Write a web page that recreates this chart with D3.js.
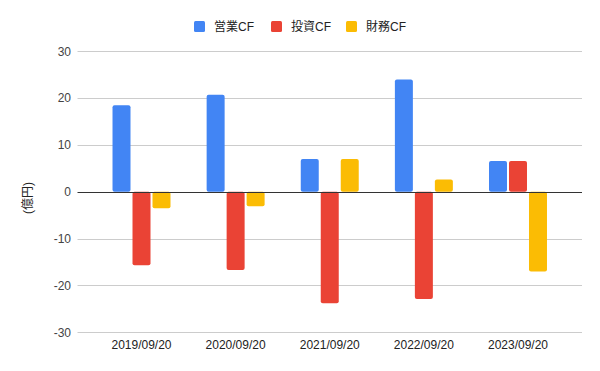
<!DOCTYPE html>
<html><head><meta charset="utf-8">
<script src="https://cdn.jsdelivr.net/npm/d3@7"></script>
<style>
html,body{margin:0;padding:0;background:#fff;}
svg{display:block;font-family:"Liberation Sans","Noto Sans CJK JP",Arial,sans-serif;}
</style></head>
<body>
<svg id="chart" width="600" height="371"></svg>
<script>
const categories = ["2019/09/20","2020/09/20","2021/09/20","2022/09/20","2023/09/20"];
const seriesNames = ["営業CF","投資CF","財務CF"];
const operatingCF = [18.5, 20.7, 7.0, 24.0, 6.6];
const investingCF = [-15.7, -16.7, -23.8, -22.9, 6.6];
const financingCF = [-3.5, -3.1, 7.0, 2.6, -17.0];
const yTicks = [-30, -20, -10, 0, 10, 20, 30];
const yTitle = "(億円)";
const colors = ["#4285F4", "#EA4335", "#FBBC04"];

const seriesValues = [operatingCF, investingCF, financingCF];
const svg = d3.select("#chart");
const plotLeft = 77.5, plotRight = 582, plotTop = 51.3, plotBottom = 332.3;

const y = d3.scaleLinear().domain([-30, 30]).range([plotBottom, plotTop]);
const x0 = d3.scaleBand().domain(categories).range([plotLeft, plotRight]).paddingInner(0.384).paddingOuter(0.372);
const x1 = d3.scaleBand().domain(seriesNames).range([0, x0.bandwidth()]).paddingInner(0.1);

// gridlines
svg.append("g").selectAll("line").data(yTicks.filter(t => t !== 0)).join("line")
  .attr("x1", plotLeft).attr("x2", plotRight)
  .attr("y1", d => Math.round(y(d)) + 0.5).attr("y2", d => Math.round(y(d)) + 0.5)
  .attr("stroke", "#cccccc").attr("stroke-width", 1);

// y labels
svg.append("g").selectAll("text").data(yTicks).join("text")
  .attr("x", 71).attr("y", d => y(d)).attr("dy", "0.35em")
  .attr("text-anchor", "end").attr("font-size", 12).attr("fill", "#444")
  .text(d => d);

// bars
const groups = svg.append("g").selectAll("g").data(categories).join("g")
  .attr("transform", d => `translate(${x0(d)},0)`);
groups.selectAll("rect").data((c, i) => seriesNames.map((s, j) => ({s, v: seriesValues[j][i], j})))
  .join("rect")
  .attr("x", d => x1(d.s))
  .attr("width", x1.bandwidth())
  .attr("y", d => Math.min(y(d.v), y(0)))
  .attr("height", d => Math.abs(y(d.v) - y(0)))
  .attr("rx", 2).attr("ry", 2)
  .attr("fill", d => colors[d.j]);

// zero line
svg.append("line").attr("x1", plotLeft).attr("x2", plotRight)
  .attr("y1", Math.round(y(0)) + 0.5).attr("y2", Math.round(y(0)) + 0.5)
  .attr("stroke", "#333333").attr("stroke-width", 1);

// x labels
svg.append("g").selectAll("text").data(categories).join("text")
  .attr("x", d => x0(d) + x0.bandwidth() / 2).attr("y", 349)
  .attr("text-anchor", "middle").attr("font-size", 12).attr("fill", "#222")
  .text(d => d);

// y title
svg.append("text")
  .attr("transform", `translate(32,198) rotate(-90)`)
  .attr("text-anchor", "middle").attr("font-size", 12).attr("fill", "#222")
  .text(yTitle);

// legend
const legendX = [194, 271, 346];
const legend = svg.append("g").selectAll("g").data(seriesNames).join("g")
  .attr("transform", (d, i) => `translate(${legendX[i]},21)`);
legend.append("rect").attr("width", 11).attr("height", 11).attr("rx", 1.5).attr("fill", (d, i) => colors[i]);
legend.append("text").attr("x", 20).attr("y", 5.5).attr("dy", "0.35em")
  .attr("font-size", 12).attr("fill", "#222").text(d => d);
</script>
</body></html>
